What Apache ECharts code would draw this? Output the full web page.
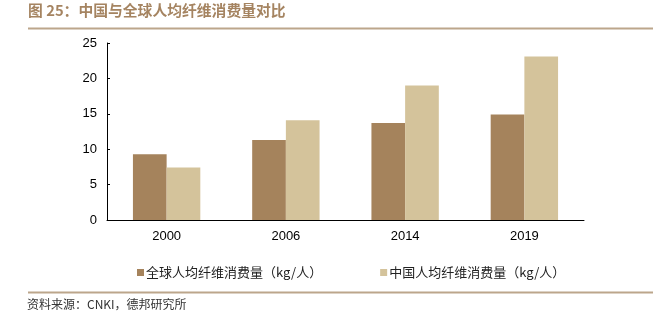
<!DOCTYPE html>
<html>
<head>
<meta charset="utf-8">
<style>
  html, body { margin: 0; padding: 0; background: #fff; }
  #chart { width: 653px; height: 326px; }
</style>
<script src="https://cdn.jsdelivr.net/npm/echarts@6/dist/echarts.min.js"></script>
</head>
<body>
<div id="chart"></div>
<script>
// Per-capita fibre consumption, world vs. China (kg per person)
const years = ['2000', '2006', '2014', '2019'];
const worldPerCapita = [9.3, 11.3, 13.7, 14.9];
const chinaPerCapita = [7.4, 14.1, 19.0, 23.1];
const yTicks = { min: 0, max: 25, interval: 5 };

const seriesNames = ['全球人均纤维消费量（kg/人）', '中国人均纤维消费量（kg/人）'];
const titleText = '图 25：中国与全球人均纤维消费量对比';
const sourceText = '资料来源：CNKI，德邦研究所';

const latin = '"Liberation Sans", Arial, "Noto Sans CJK SC", sans-serif';
const brown = '#A5835C';
const sand = '#D4C39B';
const ruleColor = '#BCA68B';

const chart = echarts.init(document.getElementById('chart'));
chart.setOption({
  animation: false,
  backgroundColor: '#fff',
  textStyle: { fontFamily: latin },
  graphic: [
    {
      type: 'text', left: 28, top: 3,
      style: { text: titleText, fill: '#A58461', font: 'bold 14.8px "Noto Sans CJK SC", sans-serif' }
    },
    {
      type: 'line', shape: { x1: 28, y1: 28.5, x2: 653, y2: 28.5 },
      style: { stroke: ruleColor, lineWidth: 2 }
    },
    {
      type: 'line', shape: { x1: 28, y1: 292.5, x2: 653, y2: 292.5 },
      style: { stroke: ruleColor, lineWidth: 2 }
    },
    {
      type: 'text', left: 27, top: 298,
      style: { text: sourceText, fill: '#333', font: '12px "Noto Sans CJK SC", sans-serif' }
    }
  ],
  grid: { left: 107, right: 69, top: 43, bottom: 106, containLabel: false },
  legend: {
    left: 132, top: 261,
    itemWidth: 7, itemHeight: 7, itemGap: 58,
    icon: 'rect',
    textStyle: { fontSize: 13, color: '#222', fontFamily: '"Noto Sans CJK SC", sans-serif', padding: [0, 0, 0, -3] },
    data: seriesNames
  },
  xAxis: {
    type: 'category',
    data: years,
    axisLine: { lineStyle: { color: '#000', width: 1 } },
    axisTick: { inside: true, length: 4, lineStyle: { color: '#000' } },
    axisLabel: { color: '#000', fontSize: 13, margin: 10 }
  },
  yAxis: {
    type: 'value',
    min: yTicks.min, max: yTicks.max, interval: yTicks.interval,
    axisLine: { show: true, lineStyle: { color: '#000', width: 1 } },
    axisTick: { show: true, inside: true, length: 3, lineStyle: { color: '#000' } },
    splitLine: { show: false },
    axisLabel: { color: '#000', fontSize: 13, margin: 10 }
  },
  series: [
    {
      name: seriesNames[0], type: 'bar', data: worldPerCapita,
      itemStyle: { color: brown }, barGap: '0%', barCategoryGap: '43.5%'
    },
    {
      name: seriesNames[1], type: 'bar', data: chinaPerCapita,
      itemStyle: { color: sand }, barGap: '0%', barCategoryGap: '43.5%'
    }
  ]
});
</script>
</body>
</html>
